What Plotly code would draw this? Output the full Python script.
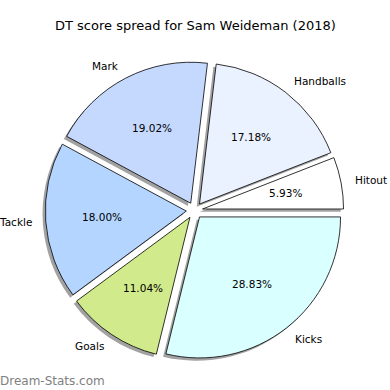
import numpy as np
import plotly.graph_objects as go

# ---- data ----
labels = ["Hitout", "Handballs", "Mark", "Tackle", "Goals", "Kicks"]
values = [29, 84, 93, 88, 54, 141]
colors = ["#ffffff", "#eaf1ff", "#c5d9ff", "#b3d5ff", "#d1eb8c", "#d9ffff"]
title = "DT score spread for Sam Weideman (2018)"
watermark = "Dream-Stats.com"

# ---- geometry (pixels) ----
W = H = 390
cx, cy, r = 194.5, 210.5, 141.0
pull = 0.058
half = r * (1 + pull)
shadow_off = 2.8
total = float(sum(values))
# first slice starts at 3 o'clock, going counterclockwise
rot = 90.0 - 360.0 * values[0] / total

def dom(dx=0.0, dy=0.0):
    return dict(
        x=[(cx - half + dx) / W, (cx + half + dx) / W],
        y=[1 - (cy + half + dy) / H, 1 - (cy - half + dy) / H],
    )

fig = go.Figure()
# shadow
fig.add_trace(go.Pie(
    labels=labels, values=values, sort=False, direction="counterclockwise",
    rotation=rot, pull=[pull] * len(values), textinfo="none", hoverinfo="skip",
    marker=dict(colors=["rgba(70,70,72,0.5)"] * len(values), line=dict(width=0)),
    domain=dom(-shadow_off, shadow_off), showlegend=False,
))
# main pie
fig.add_trace(go.Pie(
    labels=labels, values=values, sort=False, direction="counterclockwise",
    rotation=rot, pull=[pull] * len(values), textinfo="none", hoverinfo="label+percent",
    marker=dict(colors=colors, line=dict(color="black", width=0.8)),
    domain=dom(), showlegend=False,
))

FS = 10.5
cum = 0.0
annots = []
for lab, v in zip(labels, values):
    mid = np.deg2rad(360.0 * (cum + v / 2.0) / total)
    cum += v
    ux, uy = np.cos(mid), np.sin(mid)
    lx = cx + (1.1 + pull) * r * ux
    ly = cy - (1.1 + pull) * r * uy
    annots.append(dict(
        x=lx / W, y=1 - ly / H, xref="paper", yref="paper", text=lab,
        showarrow=False, xanchor="left" if ux > 0 else "right", yanchor="middle",
        borderpad=0, borderwidth=0,
        font=dict(family="DejaVu Sans", size=FS, color="black"),
    ))
    px = cx + (0.6 + pull) * r * ux
    py = cy - (0.6 + pull) * r * uy
    annots.append(dict(
        x=px / W, y=1 - py / H, xref="paper", yref="paper",
        text="%.2f%%" % (100.0 * v / total),
        showarrow=False, xanchor="center", yanchor="middle",
        borderpad=0, borderwidth=0,
        font=dict(family="DejaVu Sans", size=FS, color="black"),
    ))

annots.append(dict(
    x=0.5, y=1 - 25.5 / H, xref="paper", yref="paper", text=title,
    showarrow=False, xanchor="center", yanchor="middle",
    borderpad=0, borderwidth=0,
    font=dict(family="DejaVu Sans", size=13, color="black"),
))
annots.append(dict(
    x=0.0, y=1 - 381 / H, xref="paper", yref="paper", text=watermark,
    showarrow=False, xanchor="left", yanchor="middle",
    borderpad=0, borderwidth=0,
    font=dict(family="DejaVu Sans", size=12, color="#808080"),
))

fig.update_layout(
    width=W, height=H, margin=dict(l=0, r=0, t=0, b=0),
    paper_bgcolor="white", plot_bgcolor="white",
    annotations=annots, showlegend=False,
)
fig.write_html(
    "out.html",
    config={"displayModeBar": False},
    post_script="document.body.style.margin='0';document.body.style.overflow='hidden';",
)
